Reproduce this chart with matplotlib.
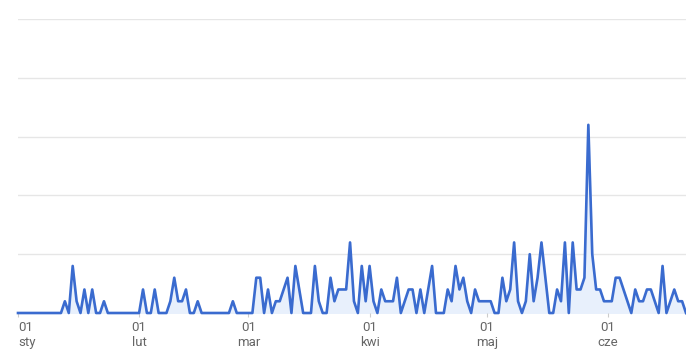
import pandas as pd
import numpy as np
import matplotlib.pyplot as plt

plt.rcParams['font.family'] = ['Roboto', 'DejaVu Sans']

# daily counts, 1 Jan - 21 Jun
jan = [0, 0, 0, 0, 0, 0, 0, 0, 0, 0, 0, 0, 1, 0, 4, 1, 0, 2, 0, 2, 0, 0, 1, 0, 0, 0, 0, 0, 0, 0, 0]
feb = [0, 2, 0, 0, 2, 0, 0, 0, 1, 3, 1, 1, 2, 0, 0, 1, 0, 0, 0, 0, 0, 0, 0, 0, 1, 0, 0, 0]
mar = [0, 0, 3, 3, 0, 2, 0, 1, 1, 2, 3, 0, 4, 2, 0, 0, 0, 4, 1, 0, 0, 3, 1, 2, 2, 2, 6, 1, 0, 4, 1]
apr = [4, 1, 0, 2, 1, 1, 1, 3, 0, 1, 2, 2, 0, 2, 0, 2, 4, 0, 0, 0, 2, 1, 4, 2, 3, 1, 0, 2, 1, 1]
may = [1, 1, 0, 0, 3, 1, 2, 6, 1, 0, 1, 5, 1, 3, 6, 3, 0, 0, 2, 1, 6, 0, 6, 2, 2, 3, 16, 5, 2, 2, 1]
jun = [1, 1, 3, 3, 2, 1, 0, 2, 1, 1, 2, 2, 1, 0, 4, 0, 1, 2, 1, 1, 0]

values = jan + feb + mar + apr + may + jun
dates = pd.date_range('2023-01-01', periods=len(values), freq='D')

tick_dates = pd.to_datetime(['2023-01-01', '2023-02-01', '2023-03-01',
                             '2023-04-01', '2023-05-01', '2023-06-01'])
tick_labels = ['01\nsty', '01\nlut', '01\nmar', '01\nkwi', '01\nmaj', '01\ncze']
y_grid = [0, 5, 10, 15, 20, 25]

fig = plt.figure(figsize=(6.86, 3.53), dpi=100)
ax = fig.add_axes([18 / 686, 40 / 353, 668 / 686, 294 / 353])

for g in y_grid:
    ax.axhline(g, color='#e6e6e6', lw=1.0, zorder=0)

ax.fill_between(dates, values, 0, color='#e8f0fc', zorder=1)
ax.plot(dates, values, color='#3a6bcf', lw=1.9, zorder=2, clip_on=False)

ax.set_xlim(dates[0], dates[-1])
ax.set_ylim(0, 25)
ax.set_yticks([])
ax.set_xticks(tick_dates)
ax.set_xticklabels(tick_labels, fontsize=9.5, color='#666666', linespacing=1.15)
ax.get_xticklabels()[0].set_horizontalalignment('left')
ax.tick_params(axis='x', length=3, color='#cccccc', pad=3)

for s in ax.spines.values():
    s.set_visible(False)

fig.savefig('out.png', dpi=100, facecolor='white')
